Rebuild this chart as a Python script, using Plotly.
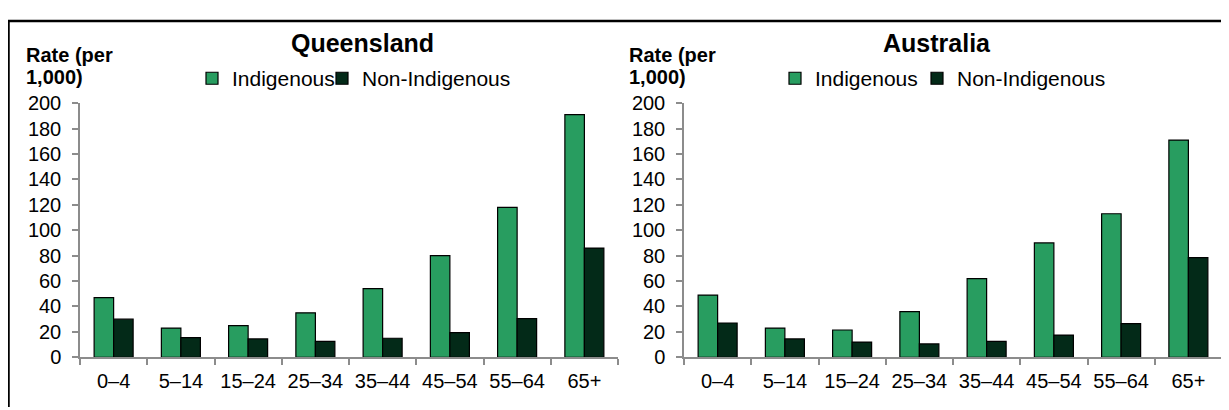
import plotly.graph_objects as go

categories = ["0–4", "5–14", "15–24", "25–34", "35–44", "45–54", "55–64", "65+"]
qld_indigenous = [47, 23, 25, 35, 54, 80, 118, 191]
qld_non_indigenous = [30, 15.5, 14.5, 12.5, 15, 19.5, 30.5, 86]
aus_indigenous = [49, 23, 21.5, 36, 62, 90, 113, 171]
aus_non_indigenous = [27, 14.5, 12, 10.5, 12.5, 17.5, 26.5, 78.5]
y_ticks = [0, 20, 40, 60, 80, 100, 120, 140, 160, 180, 200]

GREEN = "#289D60"
DARK = "#032A18"
W, H = 1229, 410
OFF = 8  # page body margin
FONT = "Arial, Liberation Sans, sans-serif"

def px(x):
    return (x - OFF) / W

def py(y):
    return 1 - (y - OFF) / H

LEGFONT = dict(size=21, family=FONT, color="black")
TITLEFONT = dict(size=25, family=FONT, color="black")
YTFONT = dict(size=20, family=FONT, color="black")
TICKFONT = dict(size=20, color="black", family=FONT)

fig = go.Figure()
fig.add_trace(go.Bar(x=categories, y=qld_indigenous, name="Indigenous", marker=dict(color=GREEN, line=dict(color="black", width=1.2)), xaxis="x", yaxis="y", legend="legend"))
fig.add_trace(go.Bar(x=categories, y=qld_non_indigenous, name="Non-Indigenous", marker=dict(color=DARK, line=dict(color="black", width=1.2)), xaxis="x", yaxis="y", legend="legend2"))
fig.add_trace(go.Bar(x=categories, y=aus_indigenous, name="Indigenous", marker=dict(color=GREEN, line=dict(color="black", width=1.2)), xaxis="x2", yaxis="y2", legend="legend3"))
fig.add_trace(go.Bar(x=categories, y=aus_non_indigenous, name="Non-Indigenous", marker=dict(color=DARK, line=dict(color="black", width=1.2)), xaxis="x2", yaxis="y2", legend="legend4"))

ydom = [py(365.5), py(97)]
xaxis_common = dict(type="category", showline=True, linecolor="#8C8C8C", linewidth=1.5,
                    ticks="outside", tickson="boundaries", ticklen=6, tickcolor="#8C8C8C", tickwidth=1.5,
                    tickfont=TICKFONT, ticklabelstandoff=5, showgrid=False, fixedrange=True)
yaxis_common = dict(range=[0, 200], tickvals=y_ticks, showline=True, linecolor="#8C8C8C", linewidth=1.5,
                    ticks="outside", ticklen=6, tickcolor="#8C8C8C", tickwidth=1.5, showgrid=False, zeroline=False,
                    tickfont=TICKFONT, ticklabelstandoff=7, domain=ydom)

def legend_at(x_start):
    return dict(orientation="h", x=px(x_start), xanchor="left", y=py(71), yanchor="middle",
                font=LEGFONT, bgcolor="rgba(0,0,0,0)", itemwidth=30)

annotations = [
    dict(text="<b>Queensland</b>", x=px(362), y=py(33), xanchor="center"),
    dict(text="<b>Australia</b>", x=px(937), y=py(33), xanchor="center"),
]
annotations = [dict(a, xref="paper", yref="paper", yanchor="middle", showarrow=False, font=TITLEFONT) for a in annotations]
for lx in (24, 627):
    for line, ly in (("Rate (per", 46), ("1,000)", 69)):
        annotations.append(dict(text=f"<b>{line}</b>", x=px(lx), y=py(ly), xref="paper", yref="paper",
                                xanchor="left", yanchor="middle", showarrow=False, font=YTFONT))

fig.update_layout(
    width=W, height=H,
    margin=dict(l=0, r=0, t=0, b=0),
    paper_bgcolor="white", plot_bgcolor="white",
    font=dict(family=FONT, color="black"),
    barmode="group", bargap=0.42, bargroupgap=0,
    xaxis=dict(domain=[px(80), px(618)], anchor="y", **xaxis_common),
    yaxis=dict(anchor="x", **yaxis_common),
    xaxis2=dict(domain=[px(684), px(1222)], anchor="y2", **xaxis_common),
    yaxis2=dict(anchor="x2", **yaxis_common),
    legend=legend_at(192),
    legend2=legend_at(322),
    legend3=legend_at(775),
    legend4=legend_at(917),
    showlegend=True,
    annotations=annotations,
    shapes=[
        dict(type="line", xref="paper", yref="paper", x0=px(6), x1=1, y0=py(10), y1=py(10), line=dict(color="black", width=2.5)),
        dict(type="line", xref="paper", yref="paper", x0=px(8.5), x1=px(8.5), y0=py(9), y1=0, line=dict(color="black", width=2.5)),
    ],
)

fig.write_html("out.html")
